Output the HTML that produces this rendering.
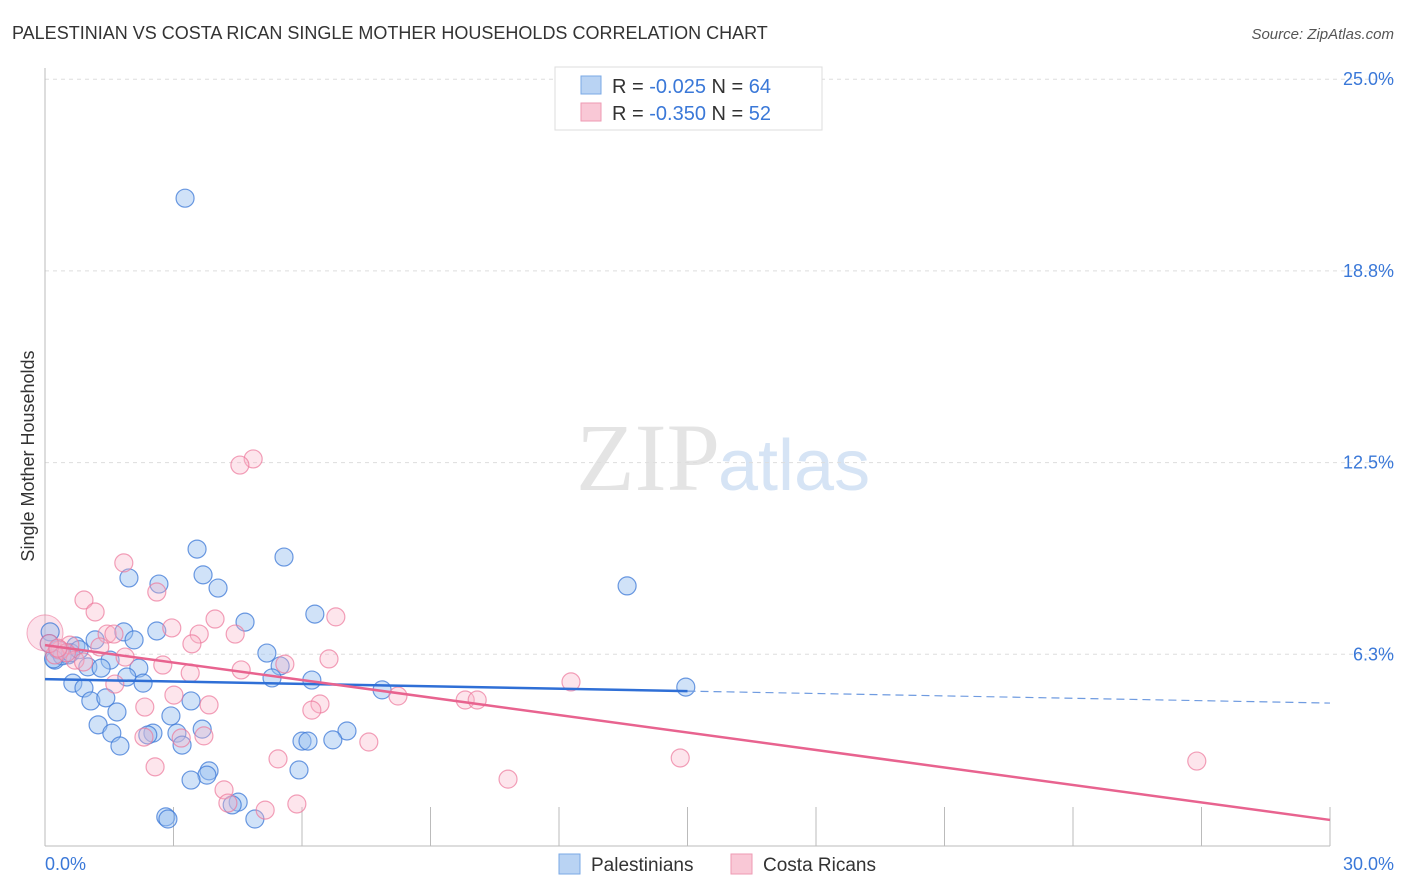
<!DOCTYPE html>
<html><head><meta charset="utf-8"><style>
body{margin:0;background:#fff;font-family:"Liberation Sans",sans-serif;}
svg{display:block}
</style></head><body>
<svg id="chart" width="1406" height="892">
<text x="12" y="39" font-size="18" fill="#333">PALESTINIAN VS COSTA RICAN SINGLE MOTHER HOUSEHOLDS CORRELATION CHART</text>
<text x="1394" y="39" font-size="15" fill="#555" font-style="italic" text-anchor="end">Source: ZipAtlas.com</text>
<text x="720" y="490" font-size="96" fill="#e4e4e4" font-family="Liberation Serif,serif" text-anchor="end">ZIP</text>
<text x="718" y="490" font-size="72" fill="#d6e4f5">atlas</text>
<g id="grid"></g><g id="axes"></g>
<g id="pts"></g><g id="trends"></g>
<text transform="translate(34,456) rotate(-90)" font-size="18" fill="#333" text-anchor="middle">Single Mother Households</text>
<text x="45" y="870" font-size="18" fill="#3a78d8">0.0%</text>
<text x="1394" y="870" font-size="18" fill="#3a78d8" text-anchor="end">30.0%</text>
<g>
<rect x="555" y="67" width="267" height="63" fill="#fff" stroke="#ddd"/>
<rect x="581" y="76" width="20" height="18" fill="#b9d3f3" stroke="#7aa8e6"/>
<rect x="581" y="103" width="20" height="18" fill="#f9c8d6" stroke="#ee9ab3"/>
<text x="612" y="93" font-size="20" fill="#333">R = <tspan fill="#3a78d8">-0.025</tspan>   N = <tspan fill="#3a78d8">64</tspan></text>
<text x="612" y="120" font-size="20" fill="#333">R = <tspan fill="#3a78d8">-0.350</tspan>   N = <tspan fill="#3a78d8">52</tspan></text>
</g>
<g>
<rect x="559" y="854" width="21" height="20" fill="#b9d3f3" stroke="#7aa8e6"/>
<text x="591" y="871" font-size="19" fill="#333">Palestinians</text>
<rect x="731" y="854" width="21" height="20" fill="#f9c8d6" stroke="#ee9ab3"/>
<text x="763" y="871" font-size="19" fill="#333">Costa Ricans</text>
</g>
</svg>
<script>
const yTicks=[25,18.75,12.5,6.25];
const yTickLabels=["25.0%","18.8%","12.5%","6.3%"];
const blueX=[3.27,3.55,5.58,1.96,2.66,3.69,4.04,13.59,6.30,4.67,2.61,1.84,1.17,2.08,0.72,5.18,0.23,0.54,1.00,1.52,1.31,2.19,5.49,1.91,2.29,0.65,0.91,5.30,6.23,7.87,14.96,1.07,1.42,3.41,1.68,2.94,1.24,3.67,1.56,2.52,2.40,3.08,7.05,1.75,3.20,6.00,6.14,6.72,3.83,3.78,5.93,3.41,2.82,2.87,4.51,4.37,4.90,0.12,0.3,0.4,0.2,0.6,0.8,0.1];
const blueY=[21.12,9.68,9.42,8.74,8.54,8.84,8.41,8.48,7.56,7.30,7.01,6.98,6.72,6.72,6.52,6.29,6.06,6.23,5.84,6.06,5.80,5.80,5.87,5.51,5.31,5.31,5.15,5.48,5.41,5.09,5.18,4.73,4.83,4.73,4.37,4.24,3.95,3.81,3.68,3.68,3.62,3.68,3.75,3.26,3.29,3.42,3.42,3.46,2.45,2.31,2.48,2.15,0.95,0.88,1.43,1.34,0.88,6.98,6.4,6.2,6.1,6.3,6.4,6.6];
const pinkX=[4.86,4.55,1.84,2.61,0.91,1.17,6.79,3.97,2.96,3.60,4.44,1.45,1.61,3.43,0.58,1.28,6.63,2.75,4.58,3.39,5.60,1.63,12.28,3.01,8.24,9.81,10.09,3.83,2.33,6.42,6.23,2.31,3.18,3.71,7.56,5.44,14.83,26.89,2.57,10.81,4.18,4.27,5.14,5.88,0.35,0.70,0.23,1.87,0.1,0.5,0.9,0.3];
const pinkY=[12.62,12.42,9.23,8.28,8.02,7.63,7.47,7.40,7.11,6.91,6.91,6.91,6.91,6.59,6.55,6.49,6.10,5.90,5.74,5.64,5.93,5.28,5.35,4.92,4.89,4.76,4.76,4.60,4.53,4.63,4.43,3.55,3.52,3.59,3.39,2.84,2.87,2.77,2.58,2.18,1.83,1.40,1.17,1.37,6.39,6.06,6.23,6.16,6.6,6.3,6.0,6.45];
const blueTrend=[5.44,4.66];
const pinkTrend=[6.55,0.85];
const xs=v=>45+v/30*1285, ys=v=>846-v/6.25*191.7;
const NS="http://www.w3.org/2000/svg";
function mk(t,a,p){const e=document.createElementNS(NS,t);for(const k in a)e.setAttribute(k,a[k]);p.appendChild(e);return e;}
const grid=document.getElementById('grid'),axes=document.getElementById('axes'),pts=document.getElementById('pts'),tr=document.getElementById('trends');
yTicks.forEach((t,i)=>{
 const l=mk('line',{x1:45,x2:1394,y1:ys(t),y2:ys(t),stroke:'#ddd','stroke-dasharray':'4,4'},grid);
 
 
 const tx=mk('text',{x:1394,y:ys(t)+6,'font-size':18,fill:'#3a78d8','text-anchor':'end'},grid);
 tx.textContent=yTickLabels[i];
 
 
});
const ax=mk('line',{x1:45,x2:45,y1:68,y2:846,stroke:'#bbb'},axes);


const bx=mk('line',{x1:45,x2:1330,y1:846,y2:846,stroke:'#bbb'},axes);


for(let i=1;i<=10;i++){const t=mk('line',{x1:xs(i*3),x2:xs(i*3),y1:807,y2:846,stroke:'#bbb'},axes);
 
 }
const b0=mk('circle',{cx:xs(0),cy:ys(6.95),r:18,fill:'rgba(244,160,190,0.3)',stroke:'rgba(236,120,155,0.6)'},pts);


blueX.forEach((x,i)=>{const c=mk('circle',{cx:xs(x),cy:ys(blueY[i]),r:9,fill:'rgba(150,190,240,0.45)',stroke:'rgba(60,120,215,0.75)','stroke-width':1.2},pts);
 
 });
pinkX.forEach((x,i)=>{const c=mk('circle',{cx:xs(x),cy:ys(pinkY[i]),r:9,fill:'rgba(248,180,200,0.35)',stroke:'rgba(236,120,155,0.7)','stroke-width':1.2},pts);
 
 });
const bl=t=>blueTrend[0]+(blueTrend[1]-blueTrend[0])*t/30;
const l1=mk('line',{x1:xs(0),y1:ys(bl(0)),x2:xs(15),y2:ys(bl(15)),stroke:'#2f6fd6','stroke-width':2.5},tr);


const l2=mk('line',{x1:xs(15),y1:ys(bl(15)),x2:xs(30),y2:ys(bl(30)),stroke:'#6f9be0','stroke-width':1.2,'stroke-dasharray':'8,5'},tr);


const l3=mk('line',{x1:xs(0),y1:ys(pinkTrend[0]),x2:xs(30),y2:ys(pinkTrend[1]),stroke:'#e8638f','stroke-width':2.5},tr);


</script>
</body></html>
